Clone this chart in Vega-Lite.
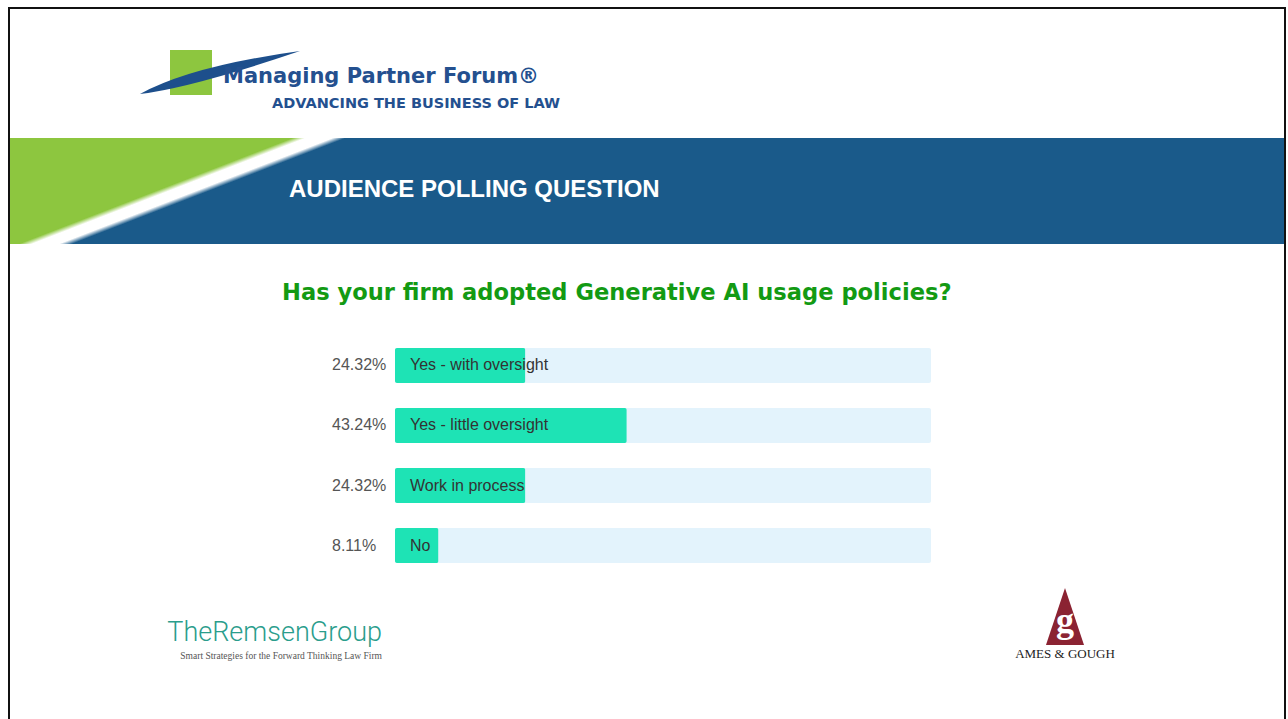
{
  "$schema": "https://vega.github.io/schema/vega-lite/v6.json",
  "background": "white",
  "padding": {"left": 8, "top": 7, "right": 0, "bottom": 0},
  "config": {
    "view": {"stroke": null},
    "concat": {"spacing": 0}
  },
  "spacing": 0,
  "hconcat": [
    {
      "width": 2, "height": 712,
      "view": {"fill": "#111111"},
      "data": {"values": [{}]},
      "mark": {"type": "text", "text": "", "fontSize": 1}
    },
    {
      "spacing": 0,
      "vconcat": [
        {
          "width": 1274, "height": 2,
          "view": {"fill": "#111111"},
          "data": {"values": [{}]},
          "mark": {"type": "text", "text": "", "fontSize": 1}
        },
        {
          "width": 1274, "height": 41,
          "data": {"values": [{}]},
          "mark": {"type": "text", "text": "", "fontSize": 1}
        },
        {
          "spacing": 0,
          "bounds": "flush",
          "hconcat": [
            {
              "width": 160, "height": 45,
              "data": {"values": [{}]},
              "mark": {"type": "text", "text": "", "fontSize": 1}
            },
            {
              "width": 42, "height": 45,
              "view": {"fill": "#8dc63f"},
              "title": {
                "text": "Managing Partner Forum®",
                "orient": "top", "anchor": "start", "frame": "group",
                "dx": 53, "offset": -36.5, "baseline": "top",
                "font": "DejaVu Sans", "fontSize": 21, "fontWeight": "bold",
                "color": "#24508f"
              },
              "data": {"values": [{}]},
              "mark": {"type": "point", "shape": "M-0.464,0.195Q0,-0.06 0.991,-0.195Q0,0.14 -0.464,0.195Z",
                       "size": 48400, "filled": true, "color": "#1d4f8c", "opacity": 1}
            }
          ]
        },
        {
          "width": 1274, "height": 42,
          "title": {
            "text": "ADVANCING THE BUSINESS OF LAW",
            "orient": "top", "anchor": "start", "frame": "group",
            "dx": 262, "offset": -15, "baseline": "top",
            "font": "DejaVu Sans", "fontSize": 14.5, "fontWeight": "bold",
            "color": "#24508f"
          },
          "data": {"values": [{}]},
          "mark": {"type": "text", "text": "", "fontSize": 1}
        },
        {
          "width": 1274, "height": 106,
          "view": {
            "fill": {
              "gradient": "linear", "x1": 0, "y1": 0, "x2": 1, "y2": 0.215,
              "stops": [
                {"offset": 0, "color": "#8dc63f"},
                {"offset": 0.212, "color": "#8dc63f"},
                {"offset": 0.222, "color": "#ffffff"},
                {"offset": 0.242, "color": "#ffffff"},
                {"offset": 0.252, "color": "#1a5a8a"},
                {"offset": 1, "color": "#1a5a8a"}
              ]
            }
          },
          "title": {
            "text": "AUDIENCE POLLING QUESTION",
            "orient": "top", "anchor": "start", "frame": "group",
            "dx": 279, "offset": -64, "baseline": "top",
            "font": "Liberation Sans", "fontSize": 24, "fontWeight": "bold",
            "color": "#ffffff"
          },
          "data": {"values": [{}]},
          "mark": {"type": "text", "text": "", "fontSize": 1}
        },
        {
          "width": 1274, "height": 337,
          "title": {
            "text": "Has your firm adopted Generative AI usage policies?",
            "orient": "top", "anchor": "start", "frame": "group",
            "dx": 272, "offset": -61, "baseline": "top",
            "font": "DejaVu Sans", "fontSize": 22.6, "fontWeight": "bold",
            "color": "#139a13"
          },
          "data": {
            "values": [
              {"option": "Yes - with oversight", "share": 0.2432},
              {"option": "Yes - little oversight", "share": 0.4324},
              {"option": "Work in process", "share": 0.2432},
              {"option": "No", "share": 0.0811}
            ]
          },
          "encoding": {
            "y": {
              "field": "option", "type": "nominal", "sort": null,
              "scale": {"range": [91.5, 331.5], "paddingInner": 0.4167, "paddingOuter": 0.2083},
              "axis": null
            }
          },
          "layer": [
            {
              "mark": {"type": "bar", "color": "#e3f3fc", "cornerRadius": 2},
              "encoding": {
                "x": {"datum": 1, "type": "quantitative",
                      "scale": {"domain": [0, 1], "range": [385, 921]}, "axis": null}
              }
            },
            {
              "mark": {"type": "bar", "color": "#1ee3b5", "cornerRadius": 2},
              "encoding": {
                "x": {"field": "share", "type": "quantitative"}
              }
            },
            {
              "mark": {"type": "text", "align": "left", "baseline": "middle", "dx": 15,
                       "font": "Liberation Sans", "fontSize": 16, "color": "#333333"},
              "encoding": {
                "x": {"datum": 0, "type": "quantitative"},
                "text": {"field": "option"}
              }
            },
            {
              "mark": {"type": "text", "align": "left", "baseline": "middle", "dx": -63,
                       "font": "Liberation Sans", "fontSize": 16, "color": "#555555"},
              "encoding": {
                "x": {"datum": 0, "type": "quantitative"},
                "text": {"field": "share", "format": ".2%"}
              }
            }
          ]
        },
        {
          "spacing": 628,
          "hconcat": [
            {
              "width": 372, "height": 139,
              "title": {
                "text": "TheRemsenGroup",
                "subtitle": "Smart Strategies for the Forward Thinking Law Firm",
                "orient": "top", "anchor": "end", "frame": "group",
                "offset": -80, "baseline": "top",
                "font": "Roboto", "fontSize": 27, "fontWeight": 300,
                "color": "#2a9d8c",
                "subtitleFont": "Liberation Serif", "subtitleFontSize": 9.5,
                "subtitleColor": "#555555", "subtitlePadding": 4
              },
              "data": {"values": [{}]},
              "mark": {"type": "text", "text": "", "fontSize": 1}
            },
            {
              "width": 110, "height": 71,
              "title": {
                "text": "AMES & GOUGH",
                "orient": "bottom", "anchor": "middle", "frame": "group",
                "offset": -4, "baseline": "top",
                "font": "Liberation Serif", "fontSize": 13, "fontWeight": "normal",
                "color": "#222222"
              },
              "data": {"values": [{}]},
              "layer": [
                {
                  "mark": {"type": "point", "shape": "M0,-1L0.667,1L-0.667,1Z", "size": 3249,
                           "filled": true, "color": "#8b2332", "opacity": 1}
                },
                {
                  "mark": {"type": "text", "text": "g", "font": "Liberation Serif", "fontSize": 36,
                           "fontWeight": "bold", "color": "#ffffff", "baseline": "middle", "dy": 4}
                }
              ]
            }
          ]
        }
      ]
    },
    {
      "width": 2, "height": 712,
      "view": {"fill": "#111111"},
      "data": {"values": [{}]},
      "mark": {"type": "text", "text": "", "fontSize": 1}
    }
  ]
}
